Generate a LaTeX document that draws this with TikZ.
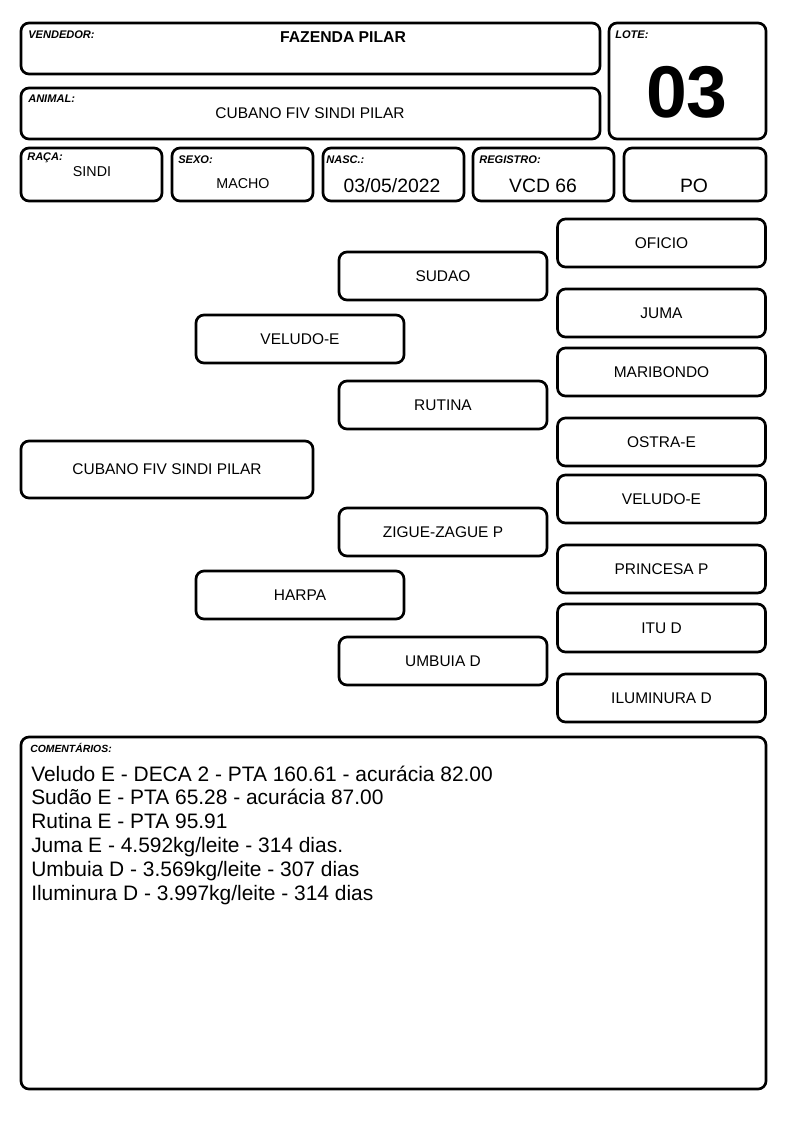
\documentclass[tikz,border=0pt]{standalone}
\usepackage{fontspec}
\setmainfont{Liberation Sans}
\tikzset{
  frame/.style={draw, line width=2pt, rounded corners=6pt, inner sep=0pt},
  tag/.style={anchor=west, inner sep=0pt, font=\fontsize{8.3}{9}\selectfont\bfseries\itshape},
  field/.style={frame, minimum width=105.75pt, minimum height=39.75pt},
  wide/.style={frame, minimum width=434.25pt, minimum height=38.25pt},
  pbox/.style={frame, minimum width=156pt, minimum height=36pt, font=\fontsize{11.6}{13}\selectfont},
  value/.style={inner sep=0pt, font=\fontsize{14.5}{16}\selectfont},
  small/.style={inner sep=0pt, font=\fontsize{10.7}{12}\selectfont},
  note/.style={anchor=base west, inner sep=0pt, font=\fontsize{15.7}{18}\selectfont}
}
\begin{document}
\begin{tikzpicture}[x=0.75pt,y=-0.75pt]
  \useasboundingbox (0,0) rectangle (794,1123);
  % header
  \node[wide] (vendedor) at (310.5,48.5) {};
  \node[tag] (vendedortag) at (28,35) {VENDEDOR:};
  \node[inner sep=0pt, font=\fontsize{11.8}{13}\selectfont\bfseries] (fazenda) at (343,37) {FAZENDA PILAR};
  \node[wide] (animal) at (310.5,113.5) {};
  \node[tag] (animaltag) at (28,99) {ANIMAL:};
  \node[inner sep=0pt, font=\fontsize{11.6}{13}\selectfont] (nome) at (310,113) {CUBANO FIV SINDI PILAR};
  \node[frame, minimum width=117.75pt, minimum height=87pt] (lote) at (687.5,81) {};
  \node[tag] (lotetag) at (615,35) {LOTE:};
  \node[inner sep=0pt, font=\fontsize{55}{57}\selectfont\bfseries] (numero) at (687,92) {03};
  \node[field] (raca) at (91.5,174.5) {};
  \node[tag] (racatag) at (27,158) {RAÇA:};
  \node[small] (racaval) at (92,172) {SINDI};
  \node[field] (sexo) at (242.5,174.5) {};
  \node[tag] (sexotag) at (178,160) {SEXO:};
  \node[small] (sexoval) at (243,184) {MACHO};
  \node[field] (nasc) at (393.5,174.5) {};
  \node[tag] (nasctag) at (326,160) {NASC.:};
  \node[value] (nascval) at (392,186) {03/05/2022};
  \node[field] (registro) at (543.5,174.5) {};
  \node[tag] (registrotag) at (479,160) {REGISTRO:};
  \node[value] (registroval) at (543,186) {VCD 66};
  \node[field, minimum width=106.5pt] (categoria) at (695,174.5) {};
  \node[value] (categoriaval) at (694,186) {PO};
  % pedigree
  \node[pbox, minimum width=219pt, minimum height=42.75pt] (animalbox) at (167,469.5) {CUBANO FIV SINDI PILAR};
  \node[pbox] (pai) at (300,339) {VELUDO-E};
  \node[pbox] (mae) at (300,595) {HARPA};
  \node[pbox] (avopp) at (443,276) {SUDAO};
  \node[pbox] (avopm) at (443,405) {RUTINA};
  \node[pbox] (avomp) at (443,532) {ZIGUE-ZAGUE P};
  \node[pbox] (avomm) at (443,661) {UMBUIA D};
  \node[pbox] (bis1) at (661.5,243) {OFICIO};
  \node[pbox] (bis2) at (661.5,313) {JUMA};
  \node[pbox] (bis3) at (661.5,372) {MARIBONDO};
  \node[pbox] (bis4) at (661.5,442) {OSTRA-E};
  \node[pbox] (bis5) at (661.5,499) {VELUDO-E};
  \node[pbox] (bis6) at (661.5,569) {PRINCESA P};
  \node[pbox] (bis7) at (661.5,628) {ITU D};
  \node[pbox] (bis8) at (661.5,698) {ILUMINURA D};
  % comments
  \node[frame, minimum width=558.75pt, minimum height=264pt] (comentarios) at (393.5,913) {};
  \node[tag, font=\fontsize{7.8}{9}\selectfont\bfseries\itshape] (comentariostag) at (30,748) {COMENTÁRIOS:};
  \foreach \txt [count=\i] in {Veludo E - DECA 2 - PTA 160.61 - acurácia 82.00,
      Sudão E - PTA 65.28 - acurácia 87.00,
      Rutina E - PTA 95.91,
      Juma E - 4.592kg/leite - 314 dias.,
      Umbuia D - 3.569kg/leite - 307 dias,
      Iluminura D - 3.997kg/leite - 314 dias}
    \node[note] (linha\i) at (31,{781+23.8*(\i-1)}) {\txt};
\end{tikzpicture}
\end{document}
